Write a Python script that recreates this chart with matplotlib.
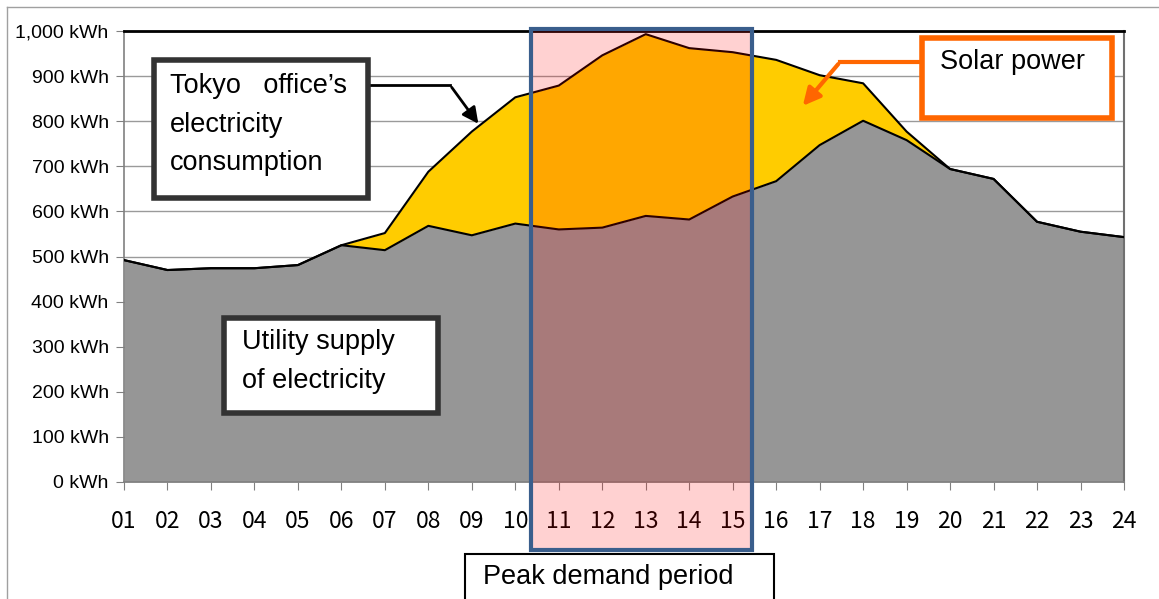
import matplotlib.pyplot as plt
from matplotlib.patches import Rectangle, FancyArrowPatch
import numpy as np

hours = ["01", "02", "03", "04", "05", "06", "07", "08", "09", "10", "11", "12",
         "13", "14", "15", "16", "17", "18", "19", "20", "21", "22", "23", "24"]
utility = [492, 470, 474, 474, 481, 525, 514, 568, 547, 573, 560, 564,
           590, 582, 633, 667, 747, 801, 758, 694, 672, 577, 555, 543]
consumption = [492, 470, 474, 474, 481, 525, 552, 688, 777, 853, 879, 946,
               993, 962, 953, 936, 902, 884, 777, 694, 672, 577, 555, 543]
y_ticks = [0, 100, 200, 300, 400, 500, 600, 700, 800, 900, 1000]
y_labels = ["0 kWh", "100 kWh", "200 kWh", "300 kWh", "400 kWh", "500 kWh",
            "600 kWh", "700 kWh", "800 kWh", "900 kWh", "1,000 kWh"]
peak_start, peak_end = 9.36, 14.44   # hour index of the peak box edges

W, H = 1159, 599
fig = plt.figure(figsize=(W / 100, H / 100), dpi=100)


def fx(px):
    return px / W


def fy(py):
    return 1 - py / H


ax = fig.add_axes([fx(124), fy(482), fx(1124) - fx(124), (482 - 31) / H])
x = np.arange(len(hours))

ax.fill_between(x, 0, utility, color="#969696", zorder=2, lw=0)
ax.fill_between(x, utility, consumption, color="#FFCC00", zorder=2, lw=0)
ax.plot(x, consumption, color="black", lw=1.5, zorder=3)
ax.plot(x, utility, color="black", lw=1.5, zorder=3)

ax.set_xlim(0, len(hours) - 1)
ax.set_ylim(0, 1000)
ax.set_yticks(y_ticks)
ax.set_yticklabels(y_labels, fontsize=14, family="Liberation Sans")
ax.set_xticks(x)
ax.set_xticklabels(hours, fontsize=16.5, family=["Noto Sans CJK JP", "DejaVu Sans"])
ax.tick_params(axis="x", length=6, color="#808080", pad=14)
ax.tick_params(axis="y", length=6, color="#808080", pad=5)
ax.grid(axis="y", color="#9a9a9a", lw=1, zorder=1)
ax.set_axisbelow(True)
for side in ["left", "bottom"]:
    ax.spines[side].set_color("#808080")
    ax.spines[side].set_linewidth(1.2)
ax.spines["top"].set_color("black")
ax.spines["top"].set_linewidth(2)
ax.spines["right"].set_color("#707070")
ax.spines["right"].set_linewidth(1.5)

# peak demand box
ax.add_patch(Rectangle((peak_start, -151), peak_end - peak_start, 1155,
                       facecolor="#FF0000", alpha=0.18, lw=0, zorder=4, clip_on=False))
ax.add_patch(Rectangle((peak_start, -151), peak_end - peak_start, 1155,
                       facecolor="none", edgecolor="#3A5E8C", lw=3, zorder=5, clip_on=False))

# outer frame
fig.add_artist(plt.Line2D([fx(7), fx(7)], [0, fy(7)], color="#a0a0a0", lw=1))
fig.add_artist(plt.Line2D([fx(7), 1], [fy(7), fy(7)], color="#a0a0a0", lw=1))


def text_box(x0, y0, x1, y1, edge, lw):
    fig.add_artist(Rectangle((fx(x0), fy(y1)), fx(x1) - fx(x0), fy(y0) - fy(y1),
                             transform=fig.transFigure, facecolor="white",
                             edgecolor=edge, lw=lw, zorder=10))


text_kw = dict(family="Liberation Sans", fontsize=19.5, va="center", ha="left", zorder=11)

# Tokyo office consumption label + arrow
fig.add_artist(plt.Line2D([fx(370), fx(450)], [fy(85), fy(85)], color="black", lw=2, zorder=9))
fig.add_artist(FancyArrowPatch((fx(450), fy(85)), (fx(480), fy(126)),
                               transform=fig.transFigure, arrowstyle="-|>",
                               mutation_scale=24, color="black", lw=2, zorder=9))
text_box(154, 60, 368, 198, "#333333", 4)
fig.text(fx(170), fy(86), "Tokyo   office’s", **text_kw)
fig.text(fx(170), fy(125), "electricity", **text_kw)
fig.text(fx(170), fy(163), "consumption", **text_kw)

# Solar power label + arrow
fig.add_artist(plt.Line2D([fx(920), fx(840)], [fy(62), fy(62)], color="#FF6600", lw=3, zorder=9))
fig.add_artist(FancyArrowPatch((fx(840), fy(62)), (fx(801), fy(108)),
                               transform=fig.transFigure, arrowstyle="-|>",
                               mutation_scale=26, color="#FF6600", lw=3, zorder=9))
text_box(922, 38, 1112, 118, "#FF6600", 4)
fig.text(fx(940), fy(62), "Solar power", **text_kw)

# Utility supply label
text_box(224, 318, 438, 413, "#333333", 4)
fig.text(fx(242), fy(342), "Utility supply", **text_kw)
fig.text(fx(242), fy(381), "of electricity", **text_kw)

# Peak demand period label
text_box(465, 554, 774, 620, "black", 1.5)
fig.text(fx(483), fy(577), "Peak demand period", **text_kw)

fig.savefig("out.png", dpi=100)
